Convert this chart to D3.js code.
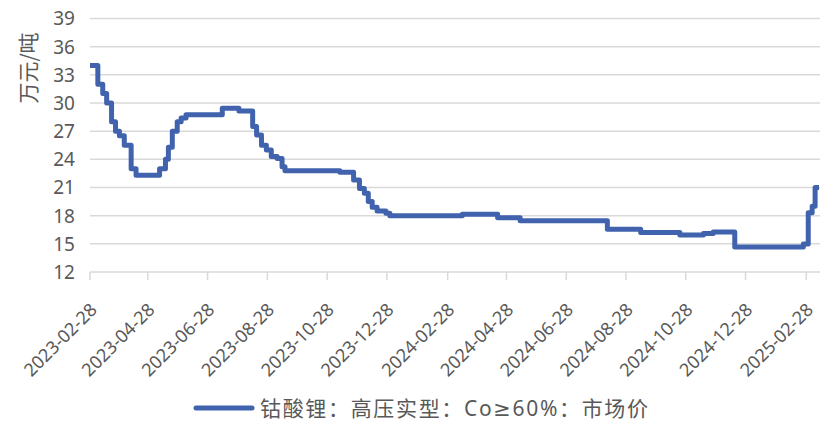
<!DOCTYPE html>
<html>
<head>
<meta charset="utf-8">
<script src="https://cdn.jsdelivr.net/npm/d3@7"></script>
<style>
  html, body { margin: 0; padding: 0; background: #fff; }
  svg { display: block; }
</style>
</head>
<body>
<svg id="chart" width="820" height="422"></svg>
<script>
// ---- data ----
const seriesName = "钴酸锂：高压实型：Co≥60%：市场价";
const yTitle = "万元/吨";
const dates = [
  "2023-02-28","2023-03-08","2023-03-13","2023-03-17","2023-03-22","2023-03-26","2023-03-30",
  "2023-04-04","2023-04-11","2023-04-16","2023-05-10","2023-05-16","2023-05-19","2023-05-23",
  "2023-05-28","2023-06-01","2023-06-06","2023-07-13","2023-07-30","2023-08-13","2023-08-17",
  "2023-08-22","2023-08-27","2023-09-01","2023-09-07","2023-09-12","2023-09-15","2023-11-10",
  "2023-11-24","2023-11-30","2023-12-05","2023-12-09","2023-12-13","2023-12-18","2023-12-27",
  "2023-12-31","2024-03-14","2024-04-19","2024-05-12","2024-08-09","2024-09-12","2024-10-22",
  "2024-11-15","2024-11-25","2024-12-17","2025-02-25","2025-03-02","2025-03-06","2025-03-09",
  "2025-03-13"
];
const values = [
  34.0, 32.0, 31.0, 30.0, 28.0, 27.0, 26.5,
  25.5, 23.0, 22.3, 23.0, 24.0, 25.3, 27.0,
  28.0, 28.4, 28.75, 29.45, 29.15, 27.5, 26.6,
  25.5, 25.0, 24.3, 24.1, 23.2, 22.78, 22.62,
  21.8, 20.9, 20.4, 19.5, 18.9, 18.5, 18.25,
  18.0, 18.15, 17.78, 17.45, 16.55, 16.22, 15.95,
  16.1, 16.27, 14.65, 14.98, 18.3, 19.0, 21.0,
  21.0
];
const yTicks = [12, 15, 18, 21, 24, 27, 30, 33, 36, 39];
const xTickLabels = [
  "2023-02-28","2023-04-28","2023-06-28","2023-08-28","2023-10-28","2023-12-28",
  "2024-02-28","2024-04-28","2024-06-28","2024-08-28","2024-10-28","2024-12-28","2025-02-28"
];
const xDomain = ["2023-02-28", "2025-03-14"];

// ---- drawing ----
const parse = d3.timeParse("%Y-%m-%d");
const data = dates.map((d, i) => ({ date: parse(d), value: values[i] }));

const svg = d3.select("#chart");
const M = { left: 90, right: 820, top: 18.5, bottom: 272 };
const textColor = "#595959";
const gridColor = "#d9d9d9";
const fontFam = "'Noto Sans', 'Noto Sans CJK SC', sans-serif";

const x = d3.scaleTime().domain(xDomain.map(parse)).range([M.left, M.right]);
const y = d3.scaleLinear().domain([12, 39]).range([M.bottom, M.top]);

// gridlines
svg.append("g").selectAll("line").data(yTicks).join("line")
  .attr("x1", M.left).attr("x2", M.right)
  .attr("y1", d => y(d)).attr("y2", d => y(d))
  .attr("stroke", gridColor).attr("stroke-width", 1.5);

// y axis labels
svg.append("g").selectAll("text").data(yTicks).join("text")
  .attr("x", 75).attr("y", d => y(d))
  .attr("dy", "0.36em")
  .attr("text-anchor", "end")
  .attr("font-family", fontFam).attr("font-size", 19)
  .attr("fill", textColor)
  .text(d => d);

// y title
svg.append("text")
  .attr("transform", "translate(36,68) rotate(-90)")
  .attr("text-anchor", "middle")
  .attr("font-family", "'Noto Sans CJK SC', sans-serif").attr("font-size", 21)
  .attr("fill", textColor)
  .text(yTitle);

// x ticks
const tickDates = xTickLabels.map(parse);
svg.append("g").selectAll("line").data(tickDates).join("line")
  .attr("x1", d => x(d)).attr("x2", d => x(d))
  .attr("y1", M.bottom).attr("y2", M.bottom + 8)
  .attr("stroke", gridColor).attr("stroke-width", 1.5);

svg.append("g").selectAll("text").data(xTickLabels).join("text")
  .attr("transform", d => `translate(${x(parse(d)) + 8},${M.bottom + 39}) rotate(-45)`)
  .attr("text-anchor", "end")
  .attr("font-family", fontFam).attr("font-size", 18)
  .attr("fill", textColor)
  .text(d => d);

// series line
const line = d3.line()
  .x(d => x(d.date)).y(d => y(d.value))
  .curve(d3.curveStepAfter);
svg.append("path").datum(data)
  .attr("d", line)
  .attr("fill", "none")
  .attr("stroke", "#4163ae")
  .attr("stroke-width", 5)
  .attr("stroke-linejoin", "round")
  .attr("stroke-linecap", "butt");

// legend
const lg = svg.append("g");
lg.append("line")
  .attr("x1", 196).attr("x2", 252).attr("y1", 408).attr("y2", 408)
  .attr("stroke", "#4163ae").attr("stroke-width", 5).attr("stroke-linecap", "round");
lg.append("text")
  .attr("x", 260).attr("y", 408).attr("dy", "0.36em")
  .attr("font-family", "'Noto Sans', 'DejaVu Sans', 'Noto Sans CJK SC', sans-serif").attr("font-size", 21)
  .attr("textLength", 388).attr("lengthAdjust", "spacing")
  .attr("fill", textColor)
  .text(seriesName);
</script>
</body>
</html>
